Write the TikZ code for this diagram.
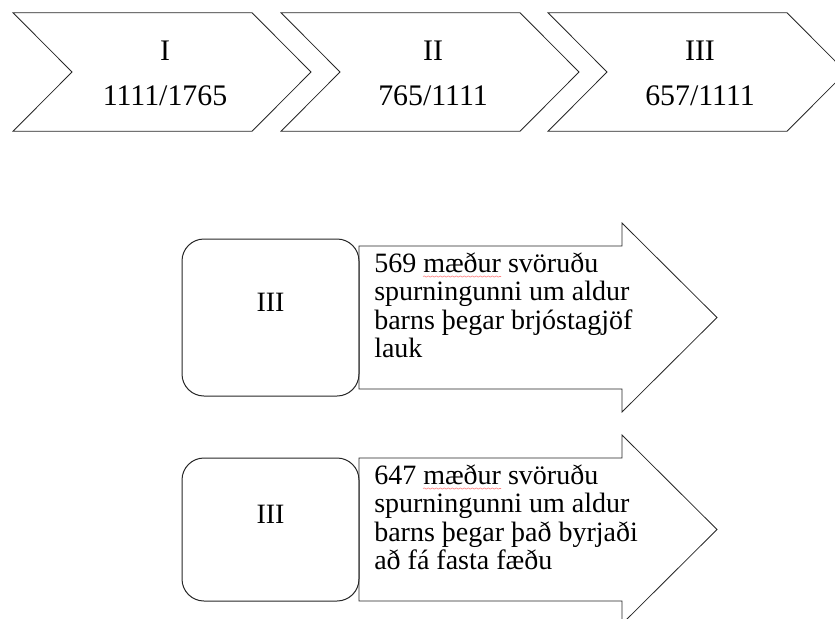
\documentclass[tikz,border=0pt]{standalone}
\usepackage{fontspec}
\setmainfont{Liberation Serif}
\usetikzlibrary{decorations.pathmorphing}
\begin{document}
\begin{tikzpicture}[x=0.75pt,y=-0.75pt,
  chevline/.style={draw=black!85, line width=0.6pt},
  boxline/.style={draw=black!85, line width=0.75pt, rounded corners=16.5pt, inner sep=0pt, outer sep=0pt, minimum width=132.75pt},
  lbl/.style={font=\fontsize{21}{21.4}\selectfont, inner sep=0pt, anchor=base},
  big/.style={lbl, font=\fontsize{22.4}{23}\selectfont},
  txt/.style={lbl, anchor=base west},
  squiggle/.style={draw=red!50, line width=0.45pt, decorate, decoration={snake, amplitude=0.45pt, segment length=3pt}}]
\useasboundingbox (0,0) rectangle (835,618);
\clip (0,0) rectangle (835,618);
% top chevrons
\foreach \L in {13,281,548}{
  \draw[chevline] (\L,12.7) -- ++(239,0) -- ++(59,59.3) -- ++(-59,59.3) -- ++(-239,0) -- ++(59,-59.3) -- cycle;
}
\node[big] (c1a) at (165,60) {I};
\node[big] (c1b) at (165,105) {1111/1765};
\node[big] (c2a) at (433,60) {II};
\node[big] (c2b) at (433,105) {765/1111};
\node[big] (c3a) at (700,60) {III};
\node[big] (c3b) at (700,105) {657/1111};
% first row
\node[boxline, minimum height=117.75pt] (b1) at (270.5,317.5) {};
\node[lbl] (b1t) at (270.5,311) {III};
\draw[chevline] (359,246) -- (622,246) -- (622,223) -- (717,317.5) -- (622,412) -- (622,389) -- (359,389) -- cycle;
\node[txt] (a1l1) at (374,272) {569 mæður svöruðu};
\node[txt] (a1l2) at (374,300.5) {spurningunni um aldur};
\node[txt] (a1l3) at (374,329) {barns þegar brjóstagjöf};
\node[txt] (a1l4) at (374,357.5) {lauk};
\draw[squiggle] (423,276.5) -- (501,276.5);
% second row
\node[boxline, minimum height=107.25pt] (b2) at (270.5,529.5) {};
\node[lbl] (b2t) at (270.5,523) {III};
\draw[chevline] (359,458) -- (622,458) -- (622,435) -- (717,529.5) -- (622,624) -- (622,601) -- (359,601) -- cycle;
\node[txt] (a2l1) at (374,484) {647 mæður svöruðu};
\node[txt] (a2l2) at (374,512.5) {spurningunni um aldur};
\node[txt] (a2l3) at (374,541) {barns þegar það byrjaði};
\node[txt] (a2l4) at (374,569.5) {að fá fasta fæðu};
\draw[squiggle] (423,488.5) -- (501,488.5);
\end{tikzpicture}
\end{document}
